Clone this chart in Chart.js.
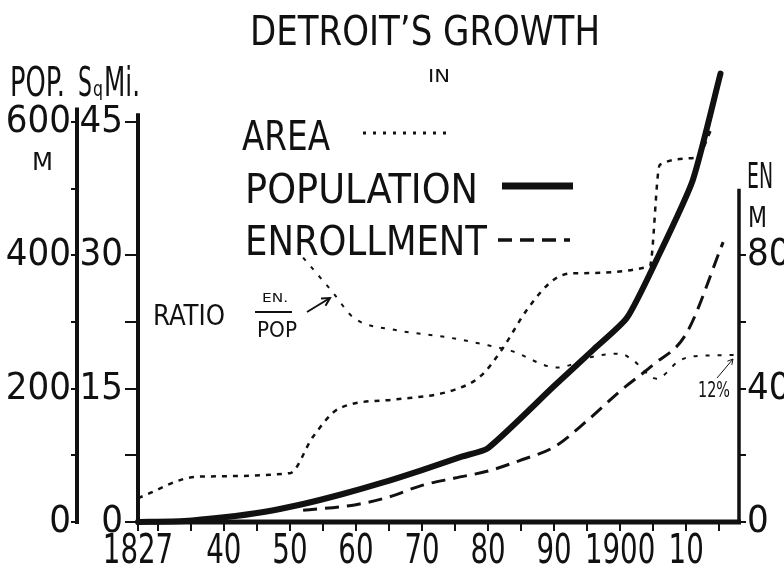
<!DOCTYPE html>
<html>
<head>
<meta charset="utf-8">
<title>Detroit's Growth</title>
<script src="https://cdn.jsdelivr.net/npm/chart.js@4.4.1/dist/chart.umd.min.js"></script>
<style>
  html, body { margin: 0; padding: 0; background: #fff; }
  #wrap { width: 784px; height: 568px; }
</style>
</head>
<body>
<div id="wrap"><canvas id="growthChart" width="784" height="568"></canvas></div>
<script>
const FONT = "'Liberation Sans Narrow', 'DejaVu Sans Condensed', sans-serif";
const INK = '#111';

// city area, square miles
const areaYears = [1827, 1836, 1850, 1853.5, 1857.5, 1866, 1875, 1879, 1882, 1886, 1890, 1893, 1904.5, 1906, 1911.5, 1914];
const areaSqMi  = [2.7, 5.1, 5.5, 9.6, 12.8, 13.8, 14.9, 16.5, 19.3, 24.0, 27.3, 28.0, 28.8, 40.2, 41.0, 44.5];

// population, thousands
const popYears  = [1827, 1834, 1840, 1846, 1852, 1858, 1864, 1870, 1876, 1880, 1890, 1896, 1901, 1905.5, 1911, 1915.2];
const popValues = [0, 1.5, 7, 15, 27, 42, 59, 78, 98, 111, 204, 259, 306, 393, 513, 673];

// school enrollment, thousands
const enYears  = [1852, 1860, 1865, 1870, 1875, 1880, 1885, 1890, 1895, 1900, 1905, 1910, 1915.6];
const enValues = [3.5, 5.2, 7.5, 11, 13.2, 15.3, 18.6, 22.5, 30.4, 39.3, 47.2, 56.5, 84];

// enrollment / population, per cent
const ratioYears  = [1852, 1856.5, 1859.6, 1866, 1873.5, 1880, 1883.5, 1890.5, 1896, 1900, 1902, 1905.5, 1909, 1911, 1917.4];
const ratioValues = [19.0, 16.5, 14.7, 13.8, 13.3, 12.7, 12.3, 11.1, 11.9, 12.1, 11.6, 10.3, 11.6, 11.9, 12.0];

// tick positions
const yearTicks  = [1827, 1830, 1835, 1840, 1845, 1850, 1855, 1860, 1865, 1870, 1875, 1880, 1885, 1890, 1895, 1900, 1905, 1910, 1915];
const sqmiTicks  = [0, 7.5, 15, 22.5, 30, 45];
const sqmiLabels = [0, 15, 30, 45];
const popTicks   = [0, 100, 200, 300, 400, 500, 600];
const popLabels  = [0, 200, 400, 600];
const enTicks    = [0, 20, 40, 60, 80];
const enLabels   = [0, 40, 80];

// the three drawn scales share one grid: 45 sq mi = 600 M = 120 M enrolled
const SQMI_MAX  = 52;
const POP_MAX   = SQMI_MAX * 600 / 45;
const EN_MAX    = SQMI_MAX * 120 / 45;
const RATIO_MAX = 33.2;

function pairs(xs, ys) {
  return xs.map((x, i) => ({ x: x, y: ys[i] }));
}

function setTicks(list) {
  return scale => { scale.ticks = list.map(v => ({ value: v })); };
}

function fixWidth(w) {
  return scale => { scale.width = w; };
}

function yearLabel(v) {
  if (v === 1827 || v === 1900) return String(v);
  if (v >= 1840 && v % 10 === 0) return String(v % 100);
  return '';
}

// draw text squeezed/stretched to a given width, x = left edge
function fitText(ctx, text, x, baseline, width, size) {
  ctx.save();
  ctx.font = size + 'px ' + FONT;
  const w = ctx.measureText(text).width;
  ctx.translate(x, baseline);
  ctx.scale(width / w, 1);
  ctx.textAlign = 'left';
  ctx.textBaseline = 'alphabetic';
  ctx.fillStyle = INK;
  ctx.fillText(text, 0, 0);
  ctx.restore();
}

function line(ctx, x1, y1, x2, y2, width, dash) {
  ctx.save();
  ctx.strokeStyle = INK;
  ctx.lineWidth = width;
  ctx.setLineDash(dash || []);
  ctx.beginPath();
  ctx.moveTo(x1, y1);
  ctx.lineTo(x2, y2);
  ctx.stroke();
  ctx.restore();
}

function arrow(ctx, x1, y1, x2, y2, width, head) {
  line(ctx, x1, y1, x2, y2, width);
  const a = Math.atan2(y2 - y1, x2 - x1);
  ctx.save();
  ctx.strokeStyle = INK;
  ctx.lineWidth = width;
  ctx.beginPath();
  ctx.moveTo(x2 - head * Math.cos(a - 0.5), y2 - head * Math.sin(a - 0.5));
  ctx.lineTo(x2, y2);
  ctx.lineTo(x2 - head * Math.cos(a + 0.5), y2 - head * Math.sin(a + 0.5));
  ctx.stroke();
  ctx.restore();
}

// hand-ruled axis lines, stopping short of the plot top like the drawing
const axisLines = {
  id: 'axisLines',
  beforeDatasetsDraw(chart) {
    const { ctx, chartArea, scales } = chart;
    const pop = scales.pop, sq = scales.sqmi, en = scales.en;
    line(ctx, pop.right - 1, pop.getPixelForValue(0) + 2, pop.right - 1, pop.getPixelForValue(622), 4);
    line(ctx, sq.right, sq.getPixelForValue(0), sq.right, sq.getPixelForValue(46), 4);
    line(ctx, en.left, en.getPixelForValue(0) + 2, en.left, en.getPixelForValue(100), 3.5);
    line(ctx, chartArea.left - 2, chartArea.bottom, chartArea.right + 2, chartArea.bottom, 5);
  }
};

// lettering: year labels, title, axis captions, key and notes
const lettering = {
  id: 'lettering',
  afterDraw(chart) {
    const ctx = chart.ctx;
    const ds = chart.data.datasets;
    const xs = chart.scales.x;

    // narrow hand-lettered year figures under the x ticks
    ctx.font = '41px ' + FONT;
    xs.ticks.forEach(t => {
      const label = yearLabel(t.value);
      if (!label) return;
      const w = ctx.measureText(label).width * 0.75;
      fitText(ctx, label, xs.getPixelForValue(t.value) - w / 2, 563, w, 41);
      ctx.font = '41px ' + FONT;
    });

    fitText(ctx, 'DETROIT\u2019S GROWTH', 250, 45, 350, 40);
    fitText(ctx, 'IN', 428, 82, 22, 17);

    fitText(ctx, 'POP.', 10, 96, 55, 40);
    fitText(ctx, 'S', 78, 96, 14, 40);
    fitText(ctx, 'q', 93, 96, 10, 22);
    fitText(ctx, 'Mi.', 104, 96, 36, 40);
    fitText(ctx, 'M', 32, 170, 21, 24);

    fitText(ctx, 'EN', 747, 188, 26, 36);
    fitText(ctx, 'M', 748, 227, 19, 28);

    // key
    fitText(ctx, 'AREA', 242, 150, 88, 40);
    fitText(ctx, 'POPULATION', 245, 203, 233, 40);
    fitText(ctx, 'ENROLLMENT', 245, 255, 242, 40);
    line(ctx, 363, 133, 453, 133, ds[0].borderWidth + 0.5, [3, 7]);
    line(ctx, 502, 186, 573, 186, ds[1].borderWidth + 1);
    line(ctx, 498, 240, 570, 240, ds[2].borderWidth + 0.5, ds[2].borderDash);

    // ratio note
    fitText(ctx, 'RATIO', 153, 325, 72, 28);
    fitText(ctx, 'EN.', 262, 302, 26, 13);
    line(ctx, 255, 312, 292, 312, 2);
    fitText(ctx, 'POP', 257, 337, 40, 21);
    arrow(ctx, 307, 312, 330, 298, 2, 9);

    fitText(ctx, '12%', 698, 397, 32, 22);
    arrow(ctx, 717, 378, 733, 359, 1, 6);
  }
};

new Chart(document.getElementById('growthChart'), {
  type: 'line',
  data: {
    datasets: [
      {
        label: 'Area',
        data: pairs(areaYears, areaSqMi),
        yAxisID: 'sqmi',
        borderColor: INK,
        borderWidth: 2.5,
        borderDash: [5, 6],
        cubicInterpolationMode: 'monotone'
      },
      {
        label: 'Population',
        data: pairs(popYears, popValues),
        yAxisID: 'pop',
        borderColor: INK,
        borderWidth: 6,
        borderCapStyle: 'round',
        borderJoinStyle: 'round',
        tension: 0.2
      },
      {
        label: 'Enrollment',
        data: pairs(enYears, enValues),
        yAxisID: 'en',
        borderColor: INK,
        borderWidth: 3,
        borderDash: [14, 8],
        cubicInterpolationMode: 'monotone'
      },
      {
        label: 'Ratio EN/POP',
        data: pairs(ratioYears, ratioValues),
        yAxisID: 'ratio',
        borderColor: INK,
        borderWidth: 2,
        borderDash: [4, 8],
        cubicInterpolationMode: 'monotone'
      }
    ]
  },
  options: {
    responsive: false,
    animation: false,
    devicePixelRatio: 1,
    clip: false,
    elements: { point: { radius: 0 }, line: { fill: false } },
    layout: { padding: { top: 60, left: 0, right: 0, bottom: 0 } },
    plugins: {
      legend: { display: false },
      tooltip: { enabled: false },
      title: { display: false }
    },
    scales: {
      x: {
        type: 'linear',
        position: 'bottom',
        min: 1827,
        max: 1918,
        afterBuildTicks: setTicks(yearTicks),
        afterFit: scale => { scale.height = 46; },
        border: { display: false },
        grid: { drawOnChartArea: false, drawTicks: true, tickLength: 9, color: INK, lineWidth: 2 },
        ticks: { display: false, autoSkip: false, maxRotation: 0, callback: yearLabel }
      },
      sqmi: {
        type: 'linear',
        axis: 'y',
        position: 'left',
        weight: 0,
        min: 0,
        max: SQMI_MAX,
        afterBuildTicks: setTicks(sqmiTicks),
        afterFit: fixWidth(60),
        border: { display: false },
        grid: { drawOnChartArea: false, drawTicks: true, tickLength: 13, color: INK, lineWidth: 2 },
        ticks: {
          padding: 2,
          color: INK,
          font: { family: FONT, size: 38 },
          callback: v => sqmiLabels.includes(v) ? String(v) : ''
        }
      },
      pop: {
        type: 'linear',
        axis: 'y',
        position: 'left',
        weight: 10,
        min: 0,
        max: POP_MAX,
        afterBuildTicks: setTicks(popTicks),
        afterFit: fixWidth(78),
        border: { display: false },
        grid: { drawOnChartArea: false, drawTicks: true, tickLength: 7, color: INK, lineWidth: 2 },
        ticks: {
          padding: 0,
          color: INK,
          font: { family: FONT, size: 38 },
          callback: v => popLabels.includes(v) ? String(v) : ''
        }
      },
      en: {
        type: 'linear',
        axis: 'y',
        position: 'right',
        min: 0,
        max: EN_MAX,
        afterBuildTicks: setTicks(enTicks),
        afterFit: fixWidth(45),
        border: { display: false },
        grid: { drawOnChartArea: false, drawTicks: true, tickLength: 7, color: INK, lineWidth: 2 },
        ticks: {
          padding: 1,
          color: INK,
          font: { family: FONT, size: 38 },
          callback: v => enLabels.includes(v) ? String(v) : ''
        }
      },
      ratio: {
        type: 'linear',
        axis: 'y',
        position: 'left',
        display: false,
        min: 0,
        max: RATIO_MAX
      }
    }
  },
  plugins: [axisLines, lettering]
});
</script>
</body>
</html>
